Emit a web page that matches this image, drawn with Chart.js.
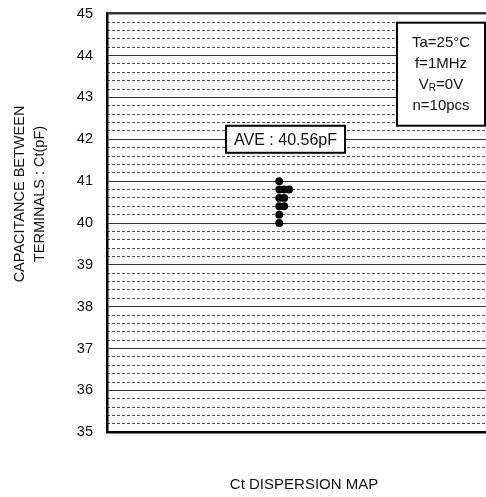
<!DOCTYPE html>
<html>
<head>
<meta charset="utf-8">
<script src="https://cdn.jsdelivr.net/npm/chart.js@4/dist/chart.umd.min.js"></script>
<style>
  html, body { margin: 0; padding: 0; background: #fff; }
  #wrap { width: 486px; height: 497px; overflow: hidden; }
</style>
</head>
<body>
<div id="wrap"><canvas id="chart" width="505" height="497"></canvas></div>
<script>
// measured Ct values (pF), one per sample
const ctValues = [41.0, 40.8, 40.8, 40.8, 40.6, 40.6, 40.4, 40.4, 40.2, 40.0];
const yTicks = [35, 36, 37, 38, 39, 40, 41, 42, 43, 44, 45];
const conditions = ["Ta=25°C", "f=1MHz", "V_R=0V", "n=10pcs"];
const yTitle = ["CAPACITANCE BETWEEN", "TERMINALS : Ct(pF)"];
const xTitle = "Ct DISPERSION MAP";

const FONT = "'Liberation Sans', Arial, sans-serif";
Chart.defaults.font.family = FONT;
Chart.defaults.color = "#111";

// dots with the same value sit side by side
const dotColumn = 43.7,
  dotSpread = 1.26;
const seen = {};
const points = ctValues.map((v) => {
  const n = seen[v] || 0;
  seen[v] = n + 1;
  return { x: dotColumn + n * dotSpread, y: v };
});

const ave = ctValues.reduce((s, v) => s + v, 0) / ctValues.length;
const aveLabel = `AVE : ${ave.toFixed(2)}pF`;

const isInt = (v) => Math.abs(v - Math.round(v)) < 1e-6;

const annotations = {
  id: "annotations",
  afterDraw(chart) {
    const ctx = chart.ctx,
      area = chart.chartArea,
      xs = chart.scales.x,
      ys = chart.scales.y;
    ctx.save();

    // y title, two rotated lines
    ctx.fillStyle = "#111";
    ctx.font = `14.5px ${FONT}`;
    ctx.textAlign = "center";
    ctx.textBaseline = "middle";
    yTitle.forEach((line, i) => {
      ctx.save();
      ctx.translate(20 + i * 20, 194);
      ctx.rotate(-Math.PI / 2);
      ctx.fillText(line, 0, 0);
      ctx.restore();
    });

    // average box
    const bx = xs.getPixelForValue(45.3),
      by = ys.getPixelForValue(42);
    ctx.fillStyle = "#fff";
    ctx.fillRect(bx - 59.5, by - 13.5, 119, 27);
    ctx.strokeStyle = "#000";
    ctx.lineWidth = 2;
    ctx.strokeRect(bx - 59.5, by - 13.5, 119, 27);
    ctx.fillStyle = "#111";
    ctx.font = `16px ${FONT}`;
    ctx.fillText(aveLabel, bx, by + 1);

    // measuring conditions box
    const lx = area.left + 290,
      ly = area.top + 9,
      lw = 88,
      lh = 103;
    ctx.fillStyle = "#fff";
    ctx.fillRect(lx, ly, lw, lh);
    ctx.strokeStyle = "#000";
    ctx.lineWidth = 2;
    ctx.strokeRect(lx, ly, lw, lh);
    ctx.fillStyle = "#111";
    const cx = lx + lw / 2;
    conditions.forEach((txt, i) => {
      const ty = ly + 20 + i * 21;
      const parts = txt.split("_");
      if (parts.length === 1) {
        ctx.font = `15px ${FONT}`;
        ctx.textAlign = "center";
        ctx.fillText(txt, cx, ty);
        return;
      }
      // subscript: V_R=0V -> V, R (small, lowered), =0V
      const head = parts[0],
        sub = parts[1].charAt(0),
        tail = parts[1].slice(1);
      ctx.font = `15px ${FONT}`;
      const wHead = ctx.measureText(head).width,
        wTail = ctx.measureText(tail).width;
      ctx.font = `10px ${FONT}`;
      const wSub = ctx.measureText(sub).width;
      let x = cx - (wHead + wSub + wTail) / 2;
      ctx.textAlign = "left";
      ctx.font = `15px ${FONT}`;
      ctx.fillText(head, x, ty);
      x += wHead;
      ctx.font = `10px ${FONT}`;
      ctx.fillText(sub, x, ty + 4);
      x += wSub;
      ctx.font = `15px ${FONT}`;
      ctx.fillText(tail, x, ty);
      ctx.textAlign = "center";
    });
    ctx.restore();
  },
};

new Chart(document.getElementById("chart"), {
  type: "scatter",
  data: {
    datasets: [
      {
        data: points,
        backgroundColor: "#000",
        borderColor: "#000",
        pointRadius: 3.9,
        pointHoverRadius: 3.9,
        borderWidth: 0,
      },
    ],
  },
  options: {
    responsive: false,
    animation: false,
    events: [],
    layout: { padding: { top: 13.7, right: 2, left: 0, bottom: 0 } },
    plugins: { legend: { display: false }, tooltip: { enabled: false } },
    scales: {
      x: {
        type: "linear",
        min: 0,
        max: 100,
        ticks: { display: false },
        grid: { display: false, drawTicks: false },
        border: { display: true, color: "#000", width: 2.5 },
        title: {
          display: true,
          text: xTitle,
          font: { size: 15 },
          color: "#111",
          padding: { top: 0, bottom: 3 },
        },
        afterFit: (s) => {
          s.height = 64.7;
        },
      },
      y: {
        min: 35,
        max: 45,
        afterBuildTicks: (s) => {
          s.ticks = yTicks.map((v) => ({ value: v }));
        },
        ticks: { font: { size: 14.5 }, color: "#111", padding: 14 },
        grid: {
          drawTicks: false,
          color: "#333",
          lineWidth: (c) =>
            c.tick.value === 45 ? 2.5 : c.tick.value === 35 ? 0 : 1,
        },
        border: { display: true, color: "#000", width: 2.5 },
        afterFit: (s) => {
          s.width = 107;
          s.paddingTop = 0;
          s.paddingBottom = 0;
        },
      },
      y2: {
        position: "left",
        min: 35,
        max: 45,
        ticks: { display: false, stepSize: 0.2 },
        grid: {
          drawTicks: false,
          lineWidth: 1,
          color: (c) => (isInt(c.tick.value) ? "rgba(0,0,0,0)" : "#555"),
        },
        border: { display: false, dash: [3, 2] },
        afterFit: (s) => {
          s.width = 0;
          s.paddingTop = 0;
          s.paddingBottom = 0;
        },
      },
    },
  },
  plugins: [annotations],
});
</script>
</body>
</html>
